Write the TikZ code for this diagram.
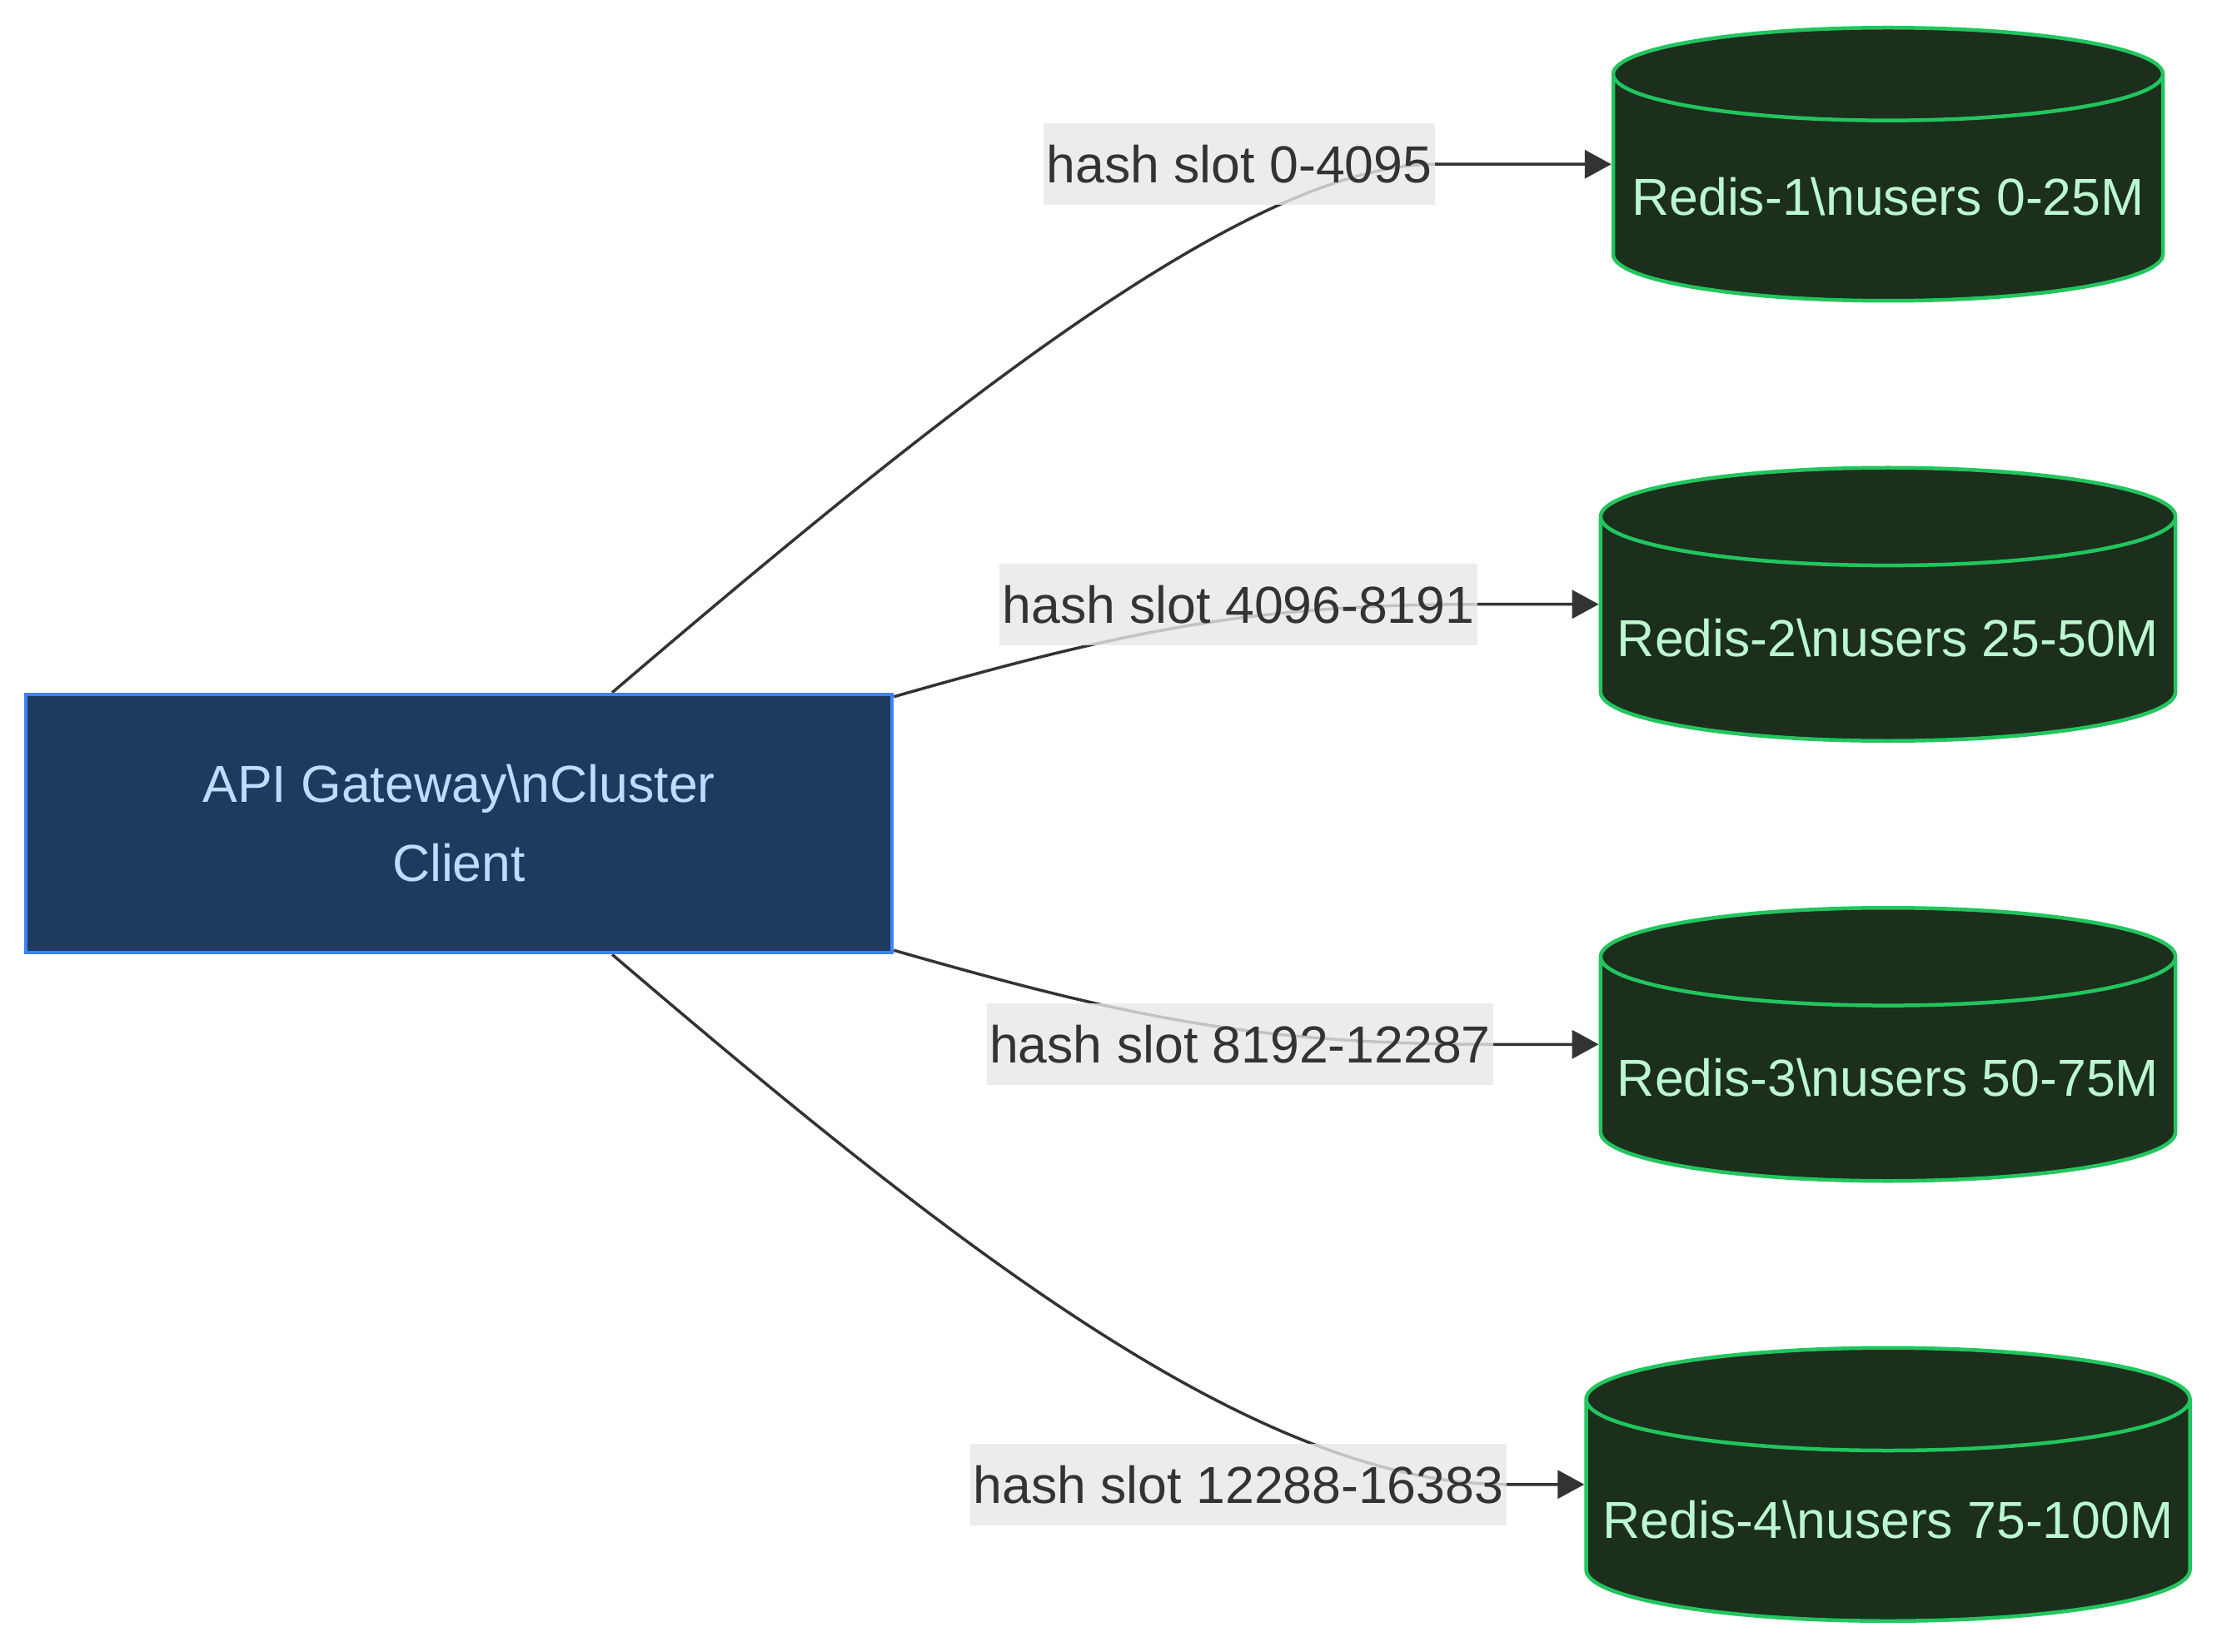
\documentclass[tikz,border=0pt]{standalone}
\usepackage{fontspec}
\setmainfont{Liberation Sans}
\usepackage{tikz}
\usetikzlibrary{arrows.meta,positioning,shapes.geometric,calc,backgrounds}
\definecolor{gwfill}{HTML}{1E3A5F}
\definecolor{gwline}{HTML}{3B82F6}
\definecolor{gwtext}{HTML}{BFDBFE}
\definecolor{dbfill}{HTML}{1C2E1C}
\definecolor{dbline}{HTML}{22C55E}
\definecolor{dbtext}{HTML}{BBF7D0}
\definecolor{linkgray}{HTML}{333333}
\definecolor{slotgray}{HTML}{E8E8E8}
\tikzset{
  gateway/.style={rectangle, draw=gwline, fill=gwfill, line width=0.045cm,
                  minimum width=10.4cm, minimum height=3.1cm, align=center,
                  text=gwtext, font=\fontsize{17.8}{27}\selectfont},
  shard/.style={cylinder, shape border rotate=90, aspect=0.17, draw=dbline,
                fill=dbfill, line width=0.045cm, minimum width=6.6cm,
                minimum height=3.28cm, inner xsep=0.2cm, text=dbtext,
                font=\fontsize{17.8}{27}\selectfont},
  slot/.style={rectangle, fill=slotgray, fill opacity=0.8, text opacity=1,
               text=linkgray, minimum height=0.98cm, inner xsep=1pt,
               font=\fontsize{17.8}{27}\selectfont},
  link/.style={-{Triangle[length=0.32cm, width=0.34cm]}, line width=0.035cm,
               draw=linkgray},
}
\begin{document}
\begin{tikzpicture}[node distance=1.96cm]
  \useasboundingbox (0,0) rectangle (26.62,-19.84);
  \node[gateway] (gw) at (5.51,-9.89) {API Gateway\textbackslash{}nCluster\\Client};
  \node[shard, anchor=north] (r1) at (22.67,-0.31) {Redis-1\textbackslash{}nusers 0-25M};
  \node[shard, below=of r1] (r2) {Redis-2\textbackslash{}nusers 25-50M};
  \node[shard, below=of r2] (r3) {Redis-3\textbackslash{}nusers 50-75M};
  \node[shard, below=of r3] (r4) {Redis-4\textbackslash{}nusers 75-100M};
  % mid height of each shard, where the links come in
  \coordinate (m1) at ($(r1.north)!0.5!(r1.south)$);
  \coordinate (m2) at ($(r2.north)!0.5!(r2.south)$);
  \coordinate (m3) at ($(r3.north)!0.5!(r3.south)$);
  \coordinate (m4) at ($(r4.north)!0.5!(r4.south)$);
  \node[slot] (l1) at (m1 -| 14.88,0) {hash slot 0-4095};
  \node[slot] (l2) at (m2 -| 14.87,0) {hash slot 4096-8191};
  \node[slot] (l3) at (m3 -| 14.89,0) {hash slot 8192-12287};
  \node[slot] (l4) at (m4 -| 14.87,0) {hash slot 12288-16383};
  \begin{scope}[on background layer]
    \fill[white] (0,0) rectangle (26.62,-19.84);
    \draw[link] ($(gw.north)+(1.84,0)$) .. controls +(4.13,3.53) and +(-2.2,0) .. (l1.east) -- (l1.east -| r1.west);
    \draw[link] ([yshift=-0.05cm]gw.north east) .. controls +(2.8,0.8) and +(-2.7,0) .. (l2.east) -- (l2.east -| r2.west);
    \draw[link] ([yshift=0.05cm]gw.south east) .. controls +(2.8,-0.8) and +(-2.9,0) .. (l3.east) -- (l3.east -| r3.west);
    \draw[link] ($(gw.south)+(1.84,0)$) .. controls +(4.13,-3.53) and +(-3.0,0) .. (l4.east) -- (l4.east -| r4.west);
  \end{scope}
\end{tikzpicture}
\end{document}
